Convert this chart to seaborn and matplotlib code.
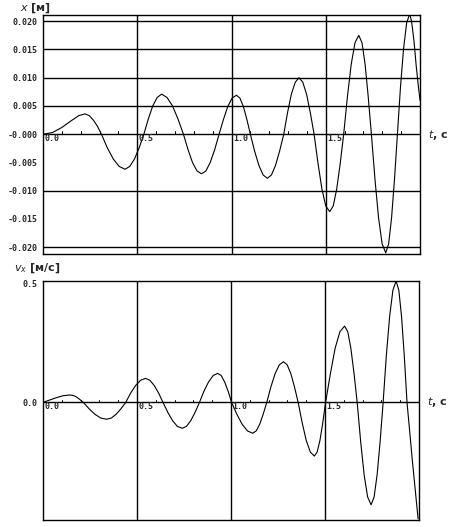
import seaborn as sns
import matplotlib.pyplot as plt
import pandas as pd
import numpy as np

sns.set_style("white")

# x(t), metres
t_x = [0.00, 0.05, 0.10, 0.15, 0.19, 0.223, 0.245, 0.267, 0.289, 0.31,
       0.341, 0.373, 0.404, 0.435, 0.46, 0.485, 0.51, 0.535,
       0.5585, 0.582, 0.6055, 0.629, 0.658, 0.687, 0.716, 0.745,
       0.769, 0.793, 0.817, 0.841, 0.864, 0.887, 0.911, 0.934,
       0.957, 0.98, 1.003, 1.026, 1.0445, 1.063, 1.0815, 1.10,
       1.1225, 1.145, 1.1675, 1.19, 1.212, 1.2335, 1.255, 1.277,
       1.297, 1.3175, 1.338, 1.358, 1.378, 1.398, 1.418, 1.438,
       1.459, 1.4795, 1.50, 1.521, 1.5395, 1.558, 1.5765, 1.595,
       1.615, 1.635, 1.655, 1.675, 1.692, 1.7085, 1.725, 1.742,
       1.761, 1.78, 1.799, 1.818, 1.8335, 1.849, 1.8645, 1.88,
       1.896, 1.9125, 1.929, 1.945, 1.955, 1.968, 1.98, 1.99, 2.0]
x_vals = [0.0, 0.0003, 0.0012, 0.0024, 0.0033, 0.0036, 0.0033, 0.0025, 0.0014, 0.0,
          -0.0024, -0.0044, -0.0057, -0.0062, -0.0057, -0.0044, -0.0024, 0.0,
          0.0027, 0.0050, 0.0065, 0.0071, 0.0065, 0.0050, 0.0027, 0.0,
          -0.0027, -0.0050, -0.0065, -0.0070, -0.0065, -0.0050, -0.0027, 0.0,
          0.0026, 0.0049, 0.0064, 0.0069, 0.0064, 0.0049, 0.0026, 0.0,
          -0.0030, -0.0055, -0.0072, -0.0078, -0.0072, -0.0055, -0.0030, 0.0,
          0.0038, 0.0071, 0.0092, 0.0100, 0.0092, 0.0071, 0.0038, 0.0,
          -0.0052, -0.0097, -0.0127, -0.0137, -0.0127, -0.0097, -0.0052, 0.0,
          0.0067, 0.0124, 0.0162, 0.0175, 0.0162, 0.0124, 0.0067, 0.0,
          -0.0080, -0.0148, -0.0194, -0.0210, -0.0194, -0.0148, -0.0080, 0.0,
          0.0082, 0.0151, 0.0197, 0.0213, 0.0200, 0.0165, 0.0120, 0.0088, 0.0060]

# v_x(t), m/s
t_v = [0.0, 0.036, 0.072, 0.107, 0.143, 0.161, 0.179, 0.196, 0.214,
       0.245, 0.276, 0.307, 0.338, 0.3635, 0.389, 0.4145, 0.44,
       0.466, 0.4925, 0.519, 0.545, 0.568, 0.5915, 0.615, 0.638,
       0.6635, 0.689, 0.7145, 0.74, 0.763, 0.786, 0.809, 0.832,
       0.856, 0.8805, 0.905, 0.929, 0.9475, 0.966, 0.9845, 1.003,
       1.031, 1.059, 1.087, 1.115, 1.134, 1.1525, 1.171, 1.19,
       1.212, 1.2345, 1.257, 1.279, 1.2985, 1.318, 1.3375, 1.357,
       1.3785, 1.40, 1.4215, 1.443, 1.458, 1.473, 1.488, 1.503,
       1.529, 1.5535, 1.579, 1.604, 1.621, 1.6375, 1.654, 1.671,
       1.6895, 1.708, 1.7265, 1.745, 1.761, 1.777, 1.793, 1.809,
       1.826, 1.8435, 1.861, 1.878, 1.8925, 1.907, 1.9215, 1.936,
       1.95, 1.965, 1.98, 1.995]
v_vals = [0.0, 0.010, 0.020, 0.028, 0.031, 0.029, 0.022, 0.012, 0.0,
          -0.027, -0.050, -0.066, -0.071, -0.066, -0.050, -0.027, 0.0,
          0.039, 0.071, 0.093, 0.101, 0.093, 0.071, 0.039, 0.0,
          -0.042, -0.077, -0.101, -0.109, -0.101, -0.077, -0.042, 0.0,
          0.047, 0.086, 0.113, 0.122, 0.113, 0.086, 0.047, 0.0,
          -0.050, -0.092, -0.120, -0.130, -0.120, -0.092, -0.050, 0.0,
          0.065, 0.121, 0.158, 0.171, 0.158, 0.121, 0.065, 0.0,
          -0.086, -0.160, -0.209, -0.226, -0.209, -0.160, -0.086, 0.0,
          0.123, 0.227, 0.297, 0.321, 0.297, 0.227, 0.123, 0.0,
          -0.165, -0.305, -0.398, -0.431, -0.398, -0.305, -0.165, 0.0,
          0.196, 0.361, 0.472, 0.511, 0.472, 0.361, 0.196, 0.0,
          -0.12, -0.25, -0.37, -0.49]

x_ticks = [-0.020, -0.015, -0.010, -0.005, 0.0, 0.005, 0.010, 0.015, 0.020]
x_ticklabels = ["-0.020", "-0.015", "-0.010", "-0.005", "-0.000",
                "0.005", "0.010", "0.015", "0.020"]
x_grid = [0.005, 0.010, 0.015, 0.020, -0.010, -0.020]
v_ticks = [0.0, 0.5]
v_ticklabels = ["0.0", "0.5"]
t_grid = [0.5, 1.0, 1.5]
t_labels = ["0.0", "0.5", "1.0", "1.5"]

df_x = pd.DataFrame({"t": t_x, "x": x_vals})
df_v = pd.DataFrame({"t": t_v, "v": v_vals})

mono = dict(family="DejaVu Sans Mono", fontsize=6, fontweight="bold")

fig = plt.figure(figsize=(4.5, 5.27), dpi=100)
ax1 = fig.add_axes([0.0956, 0.518, 0.8378, 0.4535])
ax2 = fig.add_axes([0.0956, 0.0133, 0.8356, 0.4541])


def style_axis(ax, t0_labels):
    for s in ax.spines.values():
        s.set_color("black")
        s.set_linewidth(1.0)
    for g in t_grid:
        ax.axvline(g, color="black", lw=1.0, zorder=1)
    ax.axhline(0, color="black", lw=1.0, zorder=1)
    # small ticks along the time axis (every 0.1 s)
    for k in range(1, 20):
        ax.plot([k / 10, k / 10], [0, t0_labels], color="black", lw=0.7, zorder=1)
    for lab in t_labels:
        ax.text(float(lab) + 0.008, 0, lab, ha="left", va="top", **mono)
    ax.set_xlim(0, 2.0)
    ax.set_xticks([])
    ax.set_xlabel("")
    ax.set_ylabel("")
    ax.tick_params(axis="y", direction="in", length=3, width=0.8, pad=4)
    ax.tick_params(axis="y", which="minor", direction="in", length=2, width=0.8)
    for lab in ax.get_yticklabels():
        lab.set_fontfamily("DejaVu Sans Mono")
        lab.set_fontsize(6)
        lab.set_fontweight("bold")


# upper plot: displacement
sns.lineplot(data=df_x, x="t", y="x", ax=ax1, color="black", lw=0.8, zorder=3)
for g in x_grid:
    ax1.axhline(g, color="black", lw=1.0, zorder=1)
ax1.set_ylim(-0.0212, 0.0211)
ax1.set_yticks(x_ticks)
ax1.set_yticklabels(x_ticklabels)
ax1.set_yticks(np.arange(-21, 22) / 1000, minor=True)
style_axis(ax1, 0.0005)
ax1.text(1.02, 0.5, r"$t$, c", transform=ax1.transAxes, va="center", ha="left",
         fontsize=8, fontweight="bold", clip_on=False)
fig.text(0.045, 0.997, r"$x$ [м]", fontsize=8, fontweight="bold", ha="left", va="top")

# lower plot: velocity
sns.lineplot(data=df_v, x="t", y="v", ax=ax2, color="black", lw=0.8, zorder=3)
ax2.set_ylim(-0.495, 0.512)
ax2.set_yticks(v_ticks)
ax2.set_yticklabels(v_ticklabels)
ax2.set_yticks(np.arange(-4, 5) / 10, minor=True)
style_axis(ax2, 0.012)
ax2.text(1.02, (0 + 0.495) / 1.007, r"$t$, c", transform=ax2.transAxes, va="center",
         ha="left", fontsize=8, fontweight="bold", clip_on=False)
fig.text(0.03, 0.478, r"$v_x$ [м/с]", fontsize=8, fontweight="bold", ha="left", va="bottom")

plt.savefig("out.png", dpi=100)
plt.close()
